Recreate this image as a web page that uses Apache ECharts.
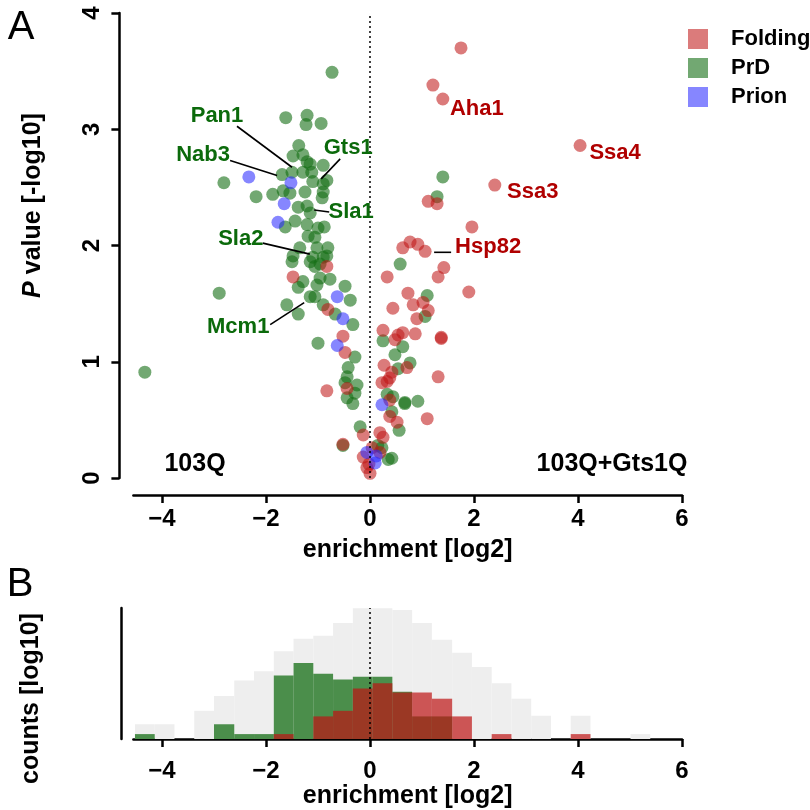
<!DOCTYPE html>
<html><head><meta charset="utf-8">
<script src="https://cdn.jsdelivr.net/npm/echarts@6/dist/echarts.min.js"></script>
<style>html,body{margin:0;padding:0;background:#fff}#c{width:810px;height:810px}</style>
</head><body><div id="c"></div>
<script>
// ---------------- DATA ----------------
const xTicks = [-4, -2, 0, 2, 4, 6];
const yTicks = [0, 1, 2, 3, 4];

// Folding (red)
const foldingPts = [
  [1.75,3.70],[1.21,3.38],[1.40,3.26],[4.04,2.86],[2.40,2.52],[1.12,2.38],[1.29,2.36],[1.96,2.16],
  [0.77,2.03],[0.63,1.98],[0.92,2.01],[1.06,1.95],[0.33,1.73],[1.42,1.81],[1.31,1.73],[1.90,1.60],
  [0.73,1.59],[0.44,1.46],[0.83,1.49],[1.02,1.51],[1.12,1.44],[0.90,1.37],[0.25,1.27],[0.54,1.23],
  [0.48,1.19],[0.63,1.25],[0.87,1.24],[1.37,1.21],[1.37,1.20],[0.27,0.97],[0.71,0.95],[0.42,0.91],
  [1.31,0.87],[0.23,0.82],[0.33,0.83],[0.38,0.86],[0.38,0.67],[0.38,0.53],[0.52,0.48],[1.10,0.51],
  [-0.83,1.82],[-1.48,1.73],[-0.81,1.45],[-0.52,1.22],[-0.48,1.08],[-0.44,0.77],[-0.83,0.75],
  [-0.13,0.37],[-0.52,0.29],[0.19,0.39],[0.25,0.35],[-0.13,0.18],[-0.06,0.09],[0.00,0.04],
  [0.19,0.22],[0.04,0.26],[-0.02,0.12]
];
// PrD (green)
const prdPts = [
  [-0.73,3.49],[-1.62,3.10],[-1.21,3.12],[-1.23,3.04],[-0.94,3.05],[-1.37,2.86],[-1.48,2.77],[-1.29,2.78],
  [-1.21,2.72],[-1.15,2.70],[-0.90,2.69],[-1.69,2.61],[-1.50,2.63],[-1.29,2.63],[-1.12,2.63],[-1.10,2.55],
  [-0.83,2.56],[-0.90,2.53],[-2.81,2.54],[-2.19,2.42],[-1.87,2.44],[-1.67,2.47],[-1.54,2.45],[-1.25,2.46],
  [-0.90,2.46],[-0.92,2.41],[-1.38,2.33],[-1.21,2.34],[-1.15,2.28],[-1.63,2.16],[-1.44,2.21],[-1.21,2.18],
  [-1.00,2.15],[-0.88,2.16],[-1.19,2.08],[-1.06,2.07],[-1.35,1.98],[-1.02,1.98],[-0.81,1.98],[-1.48,1.91],
  [-1.10,1.90],[-0.90,1.90],[-1.06,1.82],[-0.83,1.91],[-1.50,1.86],[-1.15,1.86],[-0.96,1.84],[-1.29,1.69],
  [-0.96,1.72],[-0.77,1.71],[-1.38,1.64],[-1.02,1.66],[-0.48,1.65],[-1.15,1.56],[-1.06,1.56],[-1.60,1.49],
  [-1.38,1.41],[-0.90,1.49],[-0.67,1.41],[-0.33,1.32],[-0.38,1.53],[-2.90,1.59],[-4.33,0.91],[-1.00,1.16],
  [-0.29,1.04],[-0.42,0.95],[-0.44,0.87],[-0.48,0.82],[-0.25,0.80],[-0.29,0.73],[-0.44,0.69],[-0.33,0.64],
  [-0.19,0.44],[-0.52,0.28],
  [1.40,2.59],[1.29,2.42],[0.58,1.84],[1.10,1.57],[1.06,1.39],[0.25,1.18],[0.63,1.13],[0.48,1.06],
  [0.77,0.99],[0.54,0.94],[0.33,0.72],[0.44,0.70],[0.67,0.65],[0.67,0.64],[0.92,0.66],[0.42,0.57],
  [0.56,0.41],[0.15,0.28],[0.23,0.26],[0.42,0.17],[0.35,0.16]
];
// Prion (blue)
const prionPts = [
  [-2.33,2.59],[-1.52,2.54],[-1.65,2.36],[-1.77,2.20],[-0.63,1.56],[-0.52,1.37],[-0.63,1.14],
  [0.23,0.63],[-0.06,0.22],[0.12,0.19],[0.10,0.13]
];

// labelled genes
const geneNames = ['Pan1','Nab3','Gts1','Sla1','Sla2','Mcm1','Aha1','Ssa4','Ssa3','Hsp82'];
const geneX     = [-1.50,-1.69,-0.90,-1.15,-1.10,-1.15, 1.40, 4.04, 2.40, 1.06];
const geneY     = [ 2.63, 2.61, 2.53, 2.28, 1.90, 1.56, 3.26, 2.86, 2.52, 1.95];
const geneGroup = ['PrD','PrD','PrD','PrD','PrD','PrD','Folding','Folding','Folding','Folding'];

// histogram (panel B): bin edges (log2 enrichment) and bar heights (log10 counts scale)
const binEdges = [-4.52,-4.14,-3.76,-3.38,-3.00,-2.61,-2.23,-1.85,-1.47,-1.09,-0.71,-0.33,0.05,
                  0.43,0.81,1.19,1.58,1.96,2.34,2.72,3.10,3.48,3.86,4.24,4.62,5.01,5.39];
const histAll     = [0.45,0.45,0,0.86,1.31,1.79,2.07,2.68,3.06,3.15,3.54,3.99,3.99,3.94,3.54,3.03,2.63,2.20,1.70,1.23,0.71,0,0.71,0,0,0.15];
const histPrD     = [0.15,0,0,0,0.45,0.15,0.15,1.94,2.32,1.99,1.82,1.90,1.90,1.44,0.69,0.69,0,0,0,0,0,0,0,0,0,0];
const histFolding = [0,0,0,0,0,0,0,0.15,0,0.69,0.86,1.54,1.70,1.42,1.42,1.23,0.69,0,0.15,0,0,0,0.15,0,0,0];

// ---------------- STYLE ----------------
const RED = 'rgba(190,20,20,0.7)';
const GREEN = 'rgba(20,110,20,0.75)';
const BLUE = 'rgba(40,40,255,0.7)';
const GREY = '#eeeeee';
const AXFONT = '"Liberation Sans Narrow","Liberation Sans",Arial,sans-serif';
const FONT = '"Liberation Sans",Arial,sans-serif';

const labelLayout = {
  Pan1:  {t:[-75,-56], l:[[-55,-46],[0,-5]]},
  Nab3:  {t:[-79,-20], l:[[-52,-14],[-5,1]]},
  Gts1:  {t:[25,-36],  l:[[17,-25],[-2,-5]]},
  Sla1:  {t:[41,-1],   l:[[19,-1],[4,-3]]},
  Sla2:  {t:[-72,-18], l:[[-50,-14],[-3,-3]]},
  Mcm1:  {t:[-72,30],  l:[[-40,28],[-6,6]]},
  Aha1:  {t:[34,10]},
  Ssa4:  {t:[35,7]},
  Ssa3:  {t:[38,7]},
  Hsp82: {t:[63,-4],   l:[[9,1],[26,1]]}
};

const fmtMinus = v => String(v).replace('-', '\u2212');

const chart = echarts.init(document.getElementById('c'), null, {renderer:'canvas'});

function binData(h){ return h.map((v,i)=>[binEdges[i], binEdges[i+1], v]); }
function renderBin(params, api){
  const h = api.value(2);
  if (!h) return null;
  const p0 = api.coord([api.value(0), h]);
  const p1 = api.coord([api.value(1), 0]);
  return {type:'rect', shape:{x:p0[0], y:p0[1], width:p1[0]-p0[0], height:p1[1]-p0[1]},
          style:{fill: api.visual('color')}};
}

const axisLine = {show:true, onZero:false, lineStyle:{color:'#000', width:2.5}};
const zeroLine = {silent:true, symbol:'none', label:{show:false},
  lineStyle:{type:[2,3], color:'#000', width:1.5}, data:[{xAxis:0}]};
const titleStyle = {fontFamily:AXFONT, fontWeight:'bold', fontSize:25, color:'#000'};
const tickLabel = {color:'#000', fontFamily:AXFONT, fontWeight:'bold', fontSize:24};

const option = {
  animation:false,
  backgroundColor:'#fff',
  grid:[
    {left:133.4, width:548.6, top:13, height:465},
    {left:133.4, width:548.6, top:608, height:132}
  ],
  xAxis:[
    {gridIndex:0, type:'value', min:-4.55, max:6, offset:17, axisLine:axisLine, splitLine:{show:false},
      axisTick:{show:true, length:8, lineStyle:{width:2.5, color:'#000'}, customValues:xTicks},
      axisLabel:Object.assign({customValues:xTicks, formatter:fmtMinus, margin:12}, tickLabel),
      name:'enrichment [log2]', nameLocation:'middle', nameGap:43, nameTextStyle:titleStyle},
    {gridIndex:1, type:'value', min:-4.55, max:6, offset:0, axisLine:axisLine, splitLine:{show:false},
      axisTick:{show:true, length:8, lineStyle:{width:2.5, color:'#000'}, customValues:xTicks},
      axisLabel:Object.assign({customValues:xTicks, formatter:fmtMinus, margin:20}, tickLabel),
      name:'enrichment [log2]', nameLocation:'middle', nameGap:45, nameTextStyle:titleStyle}
  ],
  yAxis:[
    {gridIndex:0, type:'value', min:0, max:4, interval:1, offset:14, axisLine:axisLine, splitLine:{show:false},
      axisTick:{show:true, length:8, lineStyle:{width:2.5, color:'#000'}},
      axisLabel:Object.assign({rotate:90, margin:15}, tickLabel),
      name:'{i|P} value [-log10]', nameLocation:'middle', nameGap:74, nameRotate:90,
      nameTextStyle:Object.assign({padding:[0,0,0,80],
        rich:{i:{fontFamily:AXFONT, fontWeight:'bold', fontStyle:'italic', fontSize:25, color:'#000'}}}, titleStyle)},
    {gridIndex:1, type:'value', min:0, max:4, offset:12, axisLine:axisLine, splitLine:{show:false},
      axisTick:{show:false}, axisLabel:{show:false},
      name:'counts [log10]', nameLocation:'middle', nameGap:78, nameRotate:90,
      nameTextStyle:Object.assign({padding:[0,50,0,0]}, titleStyle)}
  ],
  legend:{
    data:['Folding','PrD','Prion'], orient:'vertical', left:683, top:23,
    itemWidth:20, itemHeight:20, itemGap:7, icon:'rect', selectedMode:false,
    textStyle:{fontFamily:FONT, fontWeight:'bold', fontSize:22, color:'#000', padding:[0,0,0,18]}
  },
  series:[
    {name:'PrD', type:'scatter', xAxisIndex:0, yAxisIndex:0, data:prdPts, symbolSize:13,
      itemStyle:{color:GREEN}, markLine:zeroLine, z:2},
    {name:'Folding', type:'scatter', xAxisIndex:0, yAxisIndex:0, data:foldingPts, symbolSize:13,
      itemStyle:{color:RED}, z:3},
    {name:'Prion', type:'scatter', xAxisIndex:0, yAxisIndex:0, data:prionPts, symbolSize:13,
      itemStyle:{color:BLUE}, z:4},
    {name:'all proteins', type:'custom', xAxisIndex:1, yAxisIndex:1, renderItem:renderBin,
      data:binData(histAll), encode:{x:[0,1], y:2}, itemStyle:{color:GREY}, z:1},
    {name:'PrD hist', type:'custom', xAxisIndex:1, yAxisIndex:1, renderItem:renderBin,
      data:binData(histPrD), encode:{x:[0,1], y:2}, itemStyle:{color:GREEN}, z:2},
    {name:'Folding hist', type:'custom', xAxisIndex:1, yAxisIndex:1, renderItem:renderBin,
      data:binData(histFolding), encode:{x:[0,1], y:2}, itemStyle:{color:RED}, z:3,
      markLine:zeroLine}
  ]
};
chart.setOption(option);

// annotations (labels with leader lines), placed relative to their points via the axes
const gfx = [];
geneNames.forEach((g,i)=>{
  const p = chart.convertToPixel({gridIndex:0}, [geneX[i], geneY[i]]);
  const L = labelLayout[g];
  const col = geneGroup[i]==='PrD' ? '#0b6a0b' : '#b00000';
  gfx.push({type:'text', x:p[0]+L.t[0], y:p[1]+L.t[1], z:20,
    style:{text:g, fill:col, font:'bold 22px '+FONT, textAlign:'center', textVerticalAlign:'middle'}});
  if (L.l) gfx.push({type:'line', z:20, shape:{x1:p[0]+L.l[0][0], y1:p[1]+L.l[0][1], x2:p[0]+L.l[1][0], y2:p[1]+L.l[1][1]},
    style:{stroke:'#000', lineWidth:1.6}});
});
gfx.push({type:'text', x:195, y:464, style:{text:'103Q', fill:'#000', font:'bold 25px '+FONT, textAlign:'center', textVerticalAlign:'middle'}});
gfx.push({type:'text', x:612, y:464, style:{text:'103Q+Gts1Q', fill:'#000', font:'bold 25px '+FONT, textAlign:'center', textVerticalAlign:'middle'}});
gfx.push({type:'text', x:21, y:28, style:{text:'A', fill:'#000', font:'40px '+FONT, textAlign:'center', textVerticalAlign:'middle'}});
gfx.push({type:'text', x:20, y:585, style:{text:'B', fill:'#000', font:'40px '+FONT, textAlign:'center', textVerticalAlign:'middle'}});
chart.setOption({graphic:gfx});
</script></body></html>
